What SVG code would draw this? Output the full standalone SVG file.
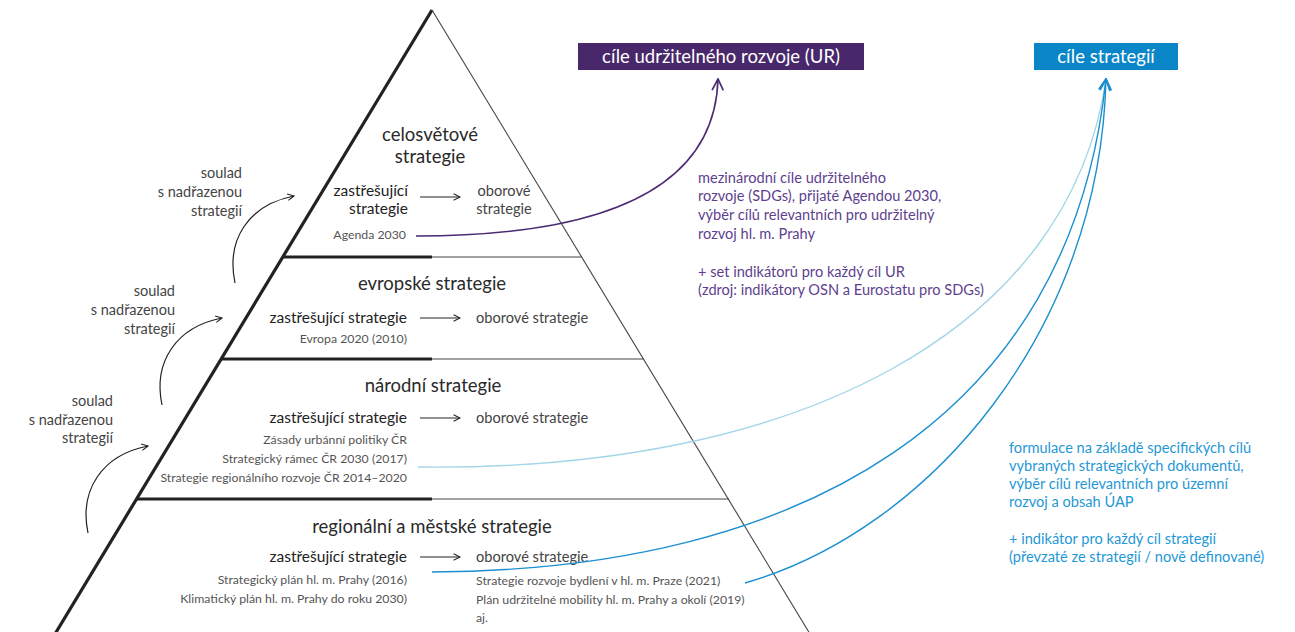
<svg xmlns="http://www.w3.org/2000/svg" width="1295" height="632" viewBox="0 0 1295 632">
<defs>
<style>
text{font-family:Lato,"Liberation Sans",sans-serif}
.t{font-size:18.5px;fill:#2a2a2a;text-anchor:middle}
.z{font-size:15.5px;fill:#222}
.o{font-size:14.6px;fill:#444}
.s{font-size:12.3px;fill:#555}
.so{font-size:14.5px;fill:#444;text-anchor:end}
.e{text-anchor:end}
.m{text-anchor:middle}
.pu{font-size:14.6px;fill:#5e3f8f}
.bl{font-size:14.6px;fill:#1f98d6}
.box{font-size:18.5px;fill:#fff;text-anchor:middle}
.thick{stroke:#222;stroke-width:3.2;fill:none}
.thin{stroke:#444;stroke-width:1.1;fill:none}
.arr{stroke:#222;stroke-width:1.1;fill:none;marker-end:url(#ah)}
.curv{stroke:#222;stroke-width:1.2;fill:none;marker-end:url(#ah)}
</style>
<marker id="ah" viewBox="0 0 10 10" refX="9" refY="5" markerWidth="8" markerHeight="8" markerUnits="userSpaceOnUse" orient="auto">
<path d="M1,1 L9,5 L1,9" fill="none" stroke="#222" stroke-width="1.3"/>
</marker>
<marker id="ahp" viewBox="0 0 10 10" refX="9" refY="5" markerWidth="14" markerHeight="14" markerUnits="userSpaceOnUse" orient="auto">
<path d="M1,1 L9,5 L1,9" fill="none" stroke="#4b2a73" stroke-width="1.2"/>
</marker>
<marker id="ahb" viewBox="0 0 10 10" refX="9" refY="5" markerWidth="14" markerHeight="14" markerUnits="userSpaceOnUse" orient="auto">
<path d="M1,1 L9,5 L1,9" fill="none" stroke="#1b8fd0" stroke-width="1.2"/>
</marker>
</defs>
<rect width="1295" height="632" fill="#fff"/>

<g id="pyramid">
<line x1="432" y1="10" x2="55" y2="634" class="thick"/>
<line x1="432" y1="10" x2="810" y2="634" class="thin"/>
<line x1="283" y1="257" x2="432" y2="257" class="thick"/>
<line x1="432" y1="257" x2="582" y2="257" class="thin"/>
<line x1="221" y1="359" x2="432" y2="359" class="thick"/>
<line x1="432" y1="359" x2="644" y2="359" class="thin"/>
<line x1="137" y1="499" x2="432" y2="499" class="thick"/>
<line x1="432" y1="499" x2="729" y2="499" class="thin"/>
</g>

<g id="level-global">
<text class="t" x="430" y="141">celosvětové</text>
<text class="t" x="430" y="163">strategie</text>
<text class="z e" x="408" y="196">zastřešující</text>
<text class="z e" x="408" y="214">strategie</text>
<text class="o m" x="504" y="196">oborové</text>
<text class="o m" x="504" y="214">strategie</text>
<text class="s e" x="406" y="239">Agenda 2030</text>
<line x1="420" y1="197" x2="460" y2="197" class="arr"/>
</g>

<g id="level-europe">
<text class="t" x="432" y="290">evropské strategie</text>
<text class="z e" x="407" y="323">zastřešující strategie</text>
<text class="o" x="476" y="323">oborové strategie</text>
<text class="s e" x="407" y="343">Evropa 2020 (2010)</text>
<line x1="420" y1="318" x2="460" y2="318" class="arr"/>
</g>

<g id="level-national">
<text class="t" x="433" y="392">národní strategie</text>
<text class="z e" x="407" y="423">zastřešující strategie</text>
<text class="o" x="476" y="423">oborové strategie</text>
<text class="s e" x="407" y="444">Zásady urbánní politiky ČR</text>
<text class="s e" x="407" y="463">Strategický rámec ČR 2030 (2017)</text>
<text class="s e" x="407" y="482">Strategie regionálního rozvoje ČR 2014–2020</text>
<line x1="420" y1="418" x2="460" y2="418" class="arr"/>
</g>

<g id="level-regional">
<text class="t" x="432" y="533">regionální a městské strategie</text>
<text class="z e" x="407" y="562">zastřešující strategie</text>
<text class="o" x="476" y="562">oborové strategie</text>
<text class="s e" x="407" y="584">Strategický plán hl. m. Prahy (2016)</text>
<text class="s e" x="407" y="603">Klimatický plán hl. m. Prahy do roku 2030)</text>
<text class="s" x="476" y="585">Strategie rozvoje bydlení v hl. m. Praze (2021)</text>
<text class="s" x="476" y="604">Plán udržitelné mobility hl. m. Prahy a okolí (2019)</text>
<text class="s" x="476" y="622">aj.</text>
<line x1="420" y1="557" x2="460" y2="557" class="arr"/>
</g>

<g id="soulad-1">
<text class="so" x="242" y="178">soulad</text>
<text class="so" x="242" y="197">s nadřazenou</text>
<text class="so" x="242" y="216">strategií</text>
</g>
<g id="soulad-2">
<text class="so" x="175" y="296">soulad</text>
<text class="so" x="175" y="315">s nadřazenou</text>
<text class="so" x="175" y="334">strategií</text>
</g>
<g id="soulad-3">
<text class="so" x="113" y="406">soulad</text>
<text class="so" x="113" y="425">s nadřazenou</text>
<text class="so" x="113" y="443">strategií</text>
</g>

<g id="goal-ur">
<rect x="578" y="43" width="286" height="27" fill="#48286a"/>
<text class="box" x="721" y="63">cíle udržitelného rozvoje (UR)</text>
</g>
<g id="goal-strategie">
<rect x="1034" y="43" width="144" height="27" fill="#0a86c8"/>
<text class="box" x="1106" y="63">cíle strategií</text>
</g>

<g id="note-ur">
<text class="pu" x="698" y="183">mezinárodní cíle udržitelného</text>
<text class="pu" x="698" y="201">rozvoje (SDGs), přijaté Agendou 2030,</text>
<text class="pu" x="698" y="220">výběr cílů relevantních pro udržitelný</text>
<text class="pu" x="698" y="239">rozvoj hl. m. Prahy</text>
<text class="pu" x="698" y="277">+ set indikátorů pro každý cíl UR</text>
<text class="pu" x="698" y="295">(zdroj: indikátory OSN a Eurostatu pro SDGs)</text>
</g>
<g id="note-strategie">
<text class="bl" x="1009" y="453">formulace na základě specifických cílů</text>
<text class="bl" x="1009" y="471">vybraných strategických dokumentů,</text>
<text class="bl" x="1009" y="489">výběr cílů relevantních pro územní</text>
<text class="bl" x="1009" y="507">rozvoj a obsah ÚAP</text>
<text class="bl" x="1009" y="544">+ indikátor pro každý cíl strategií</text>
<text class="bl" x="1009" y="562">(převzaté ze strategií / nově definované)</text>
</g>

<g id="connectors">
<path class="curv" d="M235,283 C226,240 248,205 294,196"/>
<path class="curv" d="M162,405 C153,362 176,327 222,318"/>
<path class="curv" d="M88,533 C79,490 102,455 148,446"/>
<path d="M416,236 C620,236 715,180 718,79" fill="none" stroke="#4b2a73" stroke-width="1.6" marker-end="url(#ahp)"/>
<path d="M418,467 C800,472 1070,330 1106,79" fill="none" stroke="#a3d6e8" stroke-width="1.4" marker-end="url(#ahb)"/>
<path d="M432,572 C800,570 1070,420 1106,79" fill="none" stroke="#1b8fd0" stroke-width="1.4" marker-end="url(#ahb)"/>
<path d="M745,583 C930,530 1100,330 1106,79" fill="none" stroke="#1b8fd0" stroke-width="1.4" marker-end="url(#ahb)"/>
</g>
</svg>
